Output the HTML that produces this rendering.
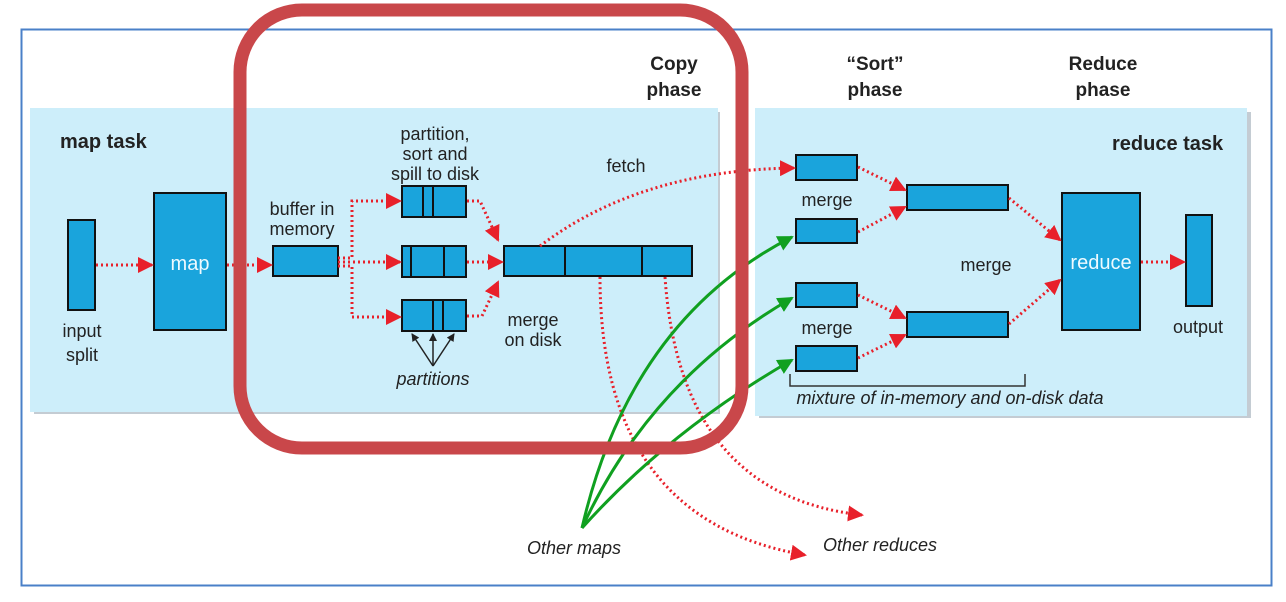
<!DOCTYPE html>
<html><head><meta charset="utf-8"><style>
html,body{margin:0;padding:0;background:#fff;}
svg{display:block;}
text{font-family:"Liberation Sans",sans-serif;fill:#222;}
</style></head><body>
<svg width="1286" height="602" viewBox="0 0 1286 602" xmlns="http://www.w3.org/2000/svg">
<defs>
<marker id="ra" markerWidth="8" markerHeight="8" refX="6" refY="4" orient="auto" markerUnits="userSpaceOnUse" viewBox="0 0 8 8"><path d="M0,0 L8,4 L0,8 z" fill="#e8202a"/></marker>
<marker id="rA" markerWidth="16" markerHeight="16" refX="14" refY="8" orient="auto" markerUnits="userSpaceOnUse" viewBox="0 0 16 16"><path d="M0,0 L16,8 L0,16 z" fill="#e8202a"/></marker>
<marker id="gA" markerWidth="16" markerHeight="16" refX="14" refY="8" orient="auto" markerUnits="userSpaceOnUse" viewBox="0 0 16 16"><path d="M0,0 L16,8 L0,16 z" fill="#10a020"/></marker>
<marker id="bA" markerWidth="8" markerHeight="8" refX="7" refY="4" orient="auto" markerUnits="userSpaceOnUse" viewBox="0 0 8 8"><path d="M0,0 L8,4 L0,8 z" fill="#222"/></marker>
</defs>
<rect x="21.5" y="29.5" width="1250" height="556" fill="#fff" stroke="#4a80c8" stroke-width="2"/>
<!-- panels -->
<rect x="34" y="112" width="686" height="302" fill="#8a9aa8" opacity="0.5"/>
<rect x="30" y="108" width="688" height="304" fill="#cdeefa"/>
<rect x="759" y="112" width="492" height="306" fill="#8a9aa8" opacity="0.5"/>
<rect x="755" y="108" width="492" height="308" fill="#cdeefa"/>
<g font-weight="bold" font-size="20">
<text x="60" y="148">map task</text>
<text x="1112" y="150">reduce task</text>
</g>
<g font-weight="bold" font-size="19" text-anchor="middle">
<text x="674" y="70">Copy</text><text x="674" y="96">phase</text>
<text x="875" y="70">“Sort”</text><text x="875" y="96">phase</text>
<text x="1103" y="70">Reduce</text><text x="1103" y="96">phase</text>
</g>
<!-- boxes -->
<g fill="#1aa4dc" stroke="#111" stroke-width="2">
<rect x="68" y="220" width="27" height="90"/>
<rect x="154" y="193" width="72" height="137"/>
<rect x="273" y="246" width="65" height="30"/>
<rect x="402" y="186" width="64" height="31"/>
<rect x="402" y="246" width="64" height="31"/>
<rect x="402" y="300" width="64" height="31"/>
<rect x="504" y="246" width="188" height="30"/>
<rect x="796" y="155" width="61" height="25"/>
<rect x="796" y="219" width="61" height="24"/>
<rect x="796" y="283" width="61" height="24"/>
<rect x="796" y="346" width="61" height="25"/>
<rect x="907" y="185" width="101" height="25"/>
<rect x="907" y="312" width="101" height="25"/>
<rect x="1062" y="193" width="78" height="137"/>
<rect x="1186" y="215" width="26" height="91"/>
</g>
<g stroke="#111" stroke-width="2">
<line x1="423" y1="186" x2="423" y2="217"/><line x1="433" y1="186" x2="433" y2="217"/>
<line x1="411" y1="246" x2="411" y2="277"/><line x1="444" y1="246" x2="444" y2="277"/>
<line x1="433" y1="300" x2="433" y2="331"/><line x1="443" y1="300" x2="443" y2="331"/>
<line x1="565" y1="246" x2="565" y2="276"/><line x1="642" y1="246" x2="642" y2="276"/>
</g>
<g fill="#eefaff" font-size="20" text-anchor="middle">
<text x="190" y="270" style="fill:#eefaff">map</text>
<text x="1101" y="269" style="fill:#eefaff">reduce</text>
</g>
<g font-size="18" text-anchor="middle">
<text x="82" y="337">input</text><text x="82" y="361">split</text>
<text x="302" y="215">buffer in</text><text x="302" y="235">memory</text>
<text x="435" y="140">partition,</text><text x="435" y="160">sort and</text><text x="435" y="180">spill to disk</text>
<text x="626" y="172">fetch</text>
<text x="533" y="326">merge</text><text x="533" y="346">on disk</text>
<text x="827" y="206">merge</text>
<text x="827" y="334">merge</text>
<text x="986" y="271">merge</text>
<text x="1198" y="333">output</text>
</g>
<g font-size="18" font-style="italic" text-anchor="middle">
<text x="433" y="385">partitions</text>
<text x="950" y="404">mixture of in-memory and on-disk data</text>
<text x="574" y="554">Other maps</text>
<text x="880" y="551">Other reduces</text>
</g>
<!-- partitions arrows -->
<g stroke="#222" stroke-width="1.5" fill="none">
<line x1="433" y1="366" x2="412" y2="334" marker-end="url(#bA)"/>
<line x1="433" y1="366" x2="433" y2="334" marker-end="url(#bA)"/>
<line x1="433" y1="366" x2="454" y2="334" marker-end="url(#bA)"/>
</g>
<!-- bracket -->
<path d="M790,374 V386 H1025 V374" fill="none" stroke="#333" stroke-width="1.5"/>
<!-- red dotted arrows -->
<g stroke="#e8202a" stroke-width="3" stroke-dasharray="2,3" fill="none">
<line x1="96" y1="265" x2="152" y2="265" marker-end="url(#rA)"/>
<line x1="227" y1="265" x2="271" y2="265" marker-end="url(#rA)"/>
<path d="M338,258 H352 V201 H400" marker-end="url(#rA)"/>
<line x1="338" y1="262" x2="400" y2="262" marker-end="url(#rA)"/>
<path d="M338,266 H352 V317 H400" marker-end="url(#rA)"/>
<path d="M467,201 H480 L498,240" marker-end="url(#rA)"/>
<line x1="467" y1="262" x2="502" y2="262" marker-end="url(#rA)"/>
<path d="M467,316 H482 L498,282" marker-end="url(#rA)"/>
<path d="M540,246 Q640,170 794,168" marker-end="url(#rA)"/>
<path d="M858,167 L905,190" marker-end="url(#rA)"/>
<path d="M858,232 L905,207" marker-end="url(#rA)"/>
<path d="M858,295 L905,318" marker-end="url(#rA)"/>
<path d="M858,358 L905,335" marker-end="url(#rA)"/>
<path d="M1009,198 L1060,240" marker-end="url(#rA)"/>
<path d="M1009,324 L1060,280" marker-end="url(#rA)"/>
<line x1="1141" y1="262" x2="1184" y2="262" marker-end="url(#rA)"/>
<path d="M600,277 Q600,520 805,555" marker-end="url(#rA)"/>
<path d="M665,277 Q680,495 862,515" marker-end="url(#rA)"/>
</g>
<!-- green curves -->
<g stroke="#10a020" stroke-width="3" fill="none">
<path d="M582,528 Q630,320 792,237" marker-end="url(#gA)"/>
<path d="M582,528 Q650,380 792,298" marker-end="url(#gA)"/>
<path d="M582,528 Q670,430 792,360" marker-end="url(#gA)"/>
</g>
<!-- red rounded highlight -->
<rect x="240" y="10" width="502" height="438" rx="62" ry="62" fill="none" stroke="#c9474a" stroke-width="13"/>
</svg>
</body></html>
